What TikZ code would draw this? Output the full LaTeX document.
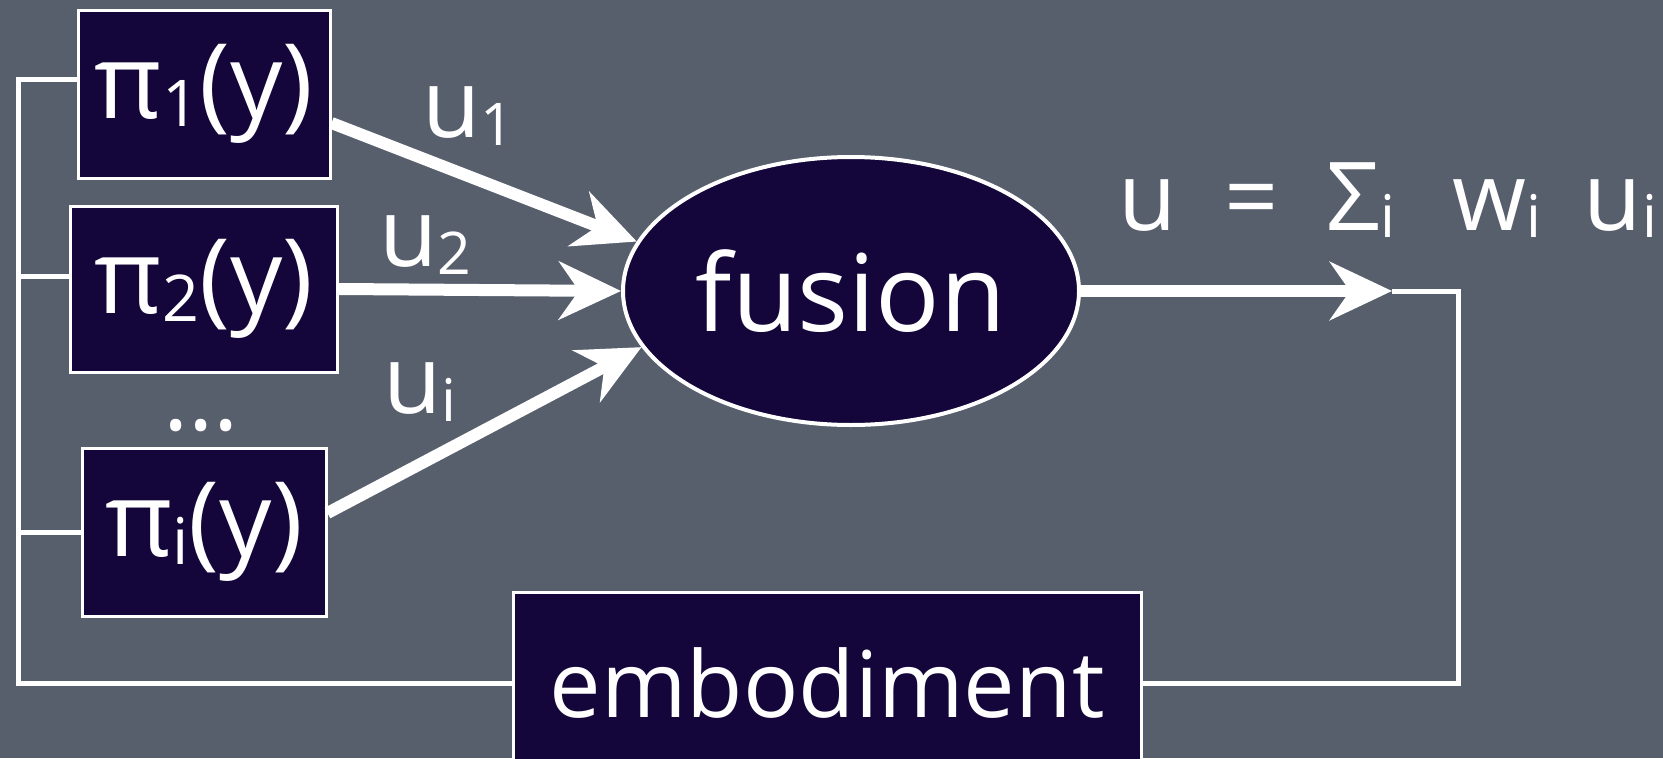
\documentclass[tikz,border=0pt]{standalone}
\usepackage{graphicx}
\usepackage{fontspec}
\setmainfont{Open Sans}
\usetikzlibrary{arrows.meta,shapes.geometric}
\definecolor{slate}{RGB}{88,95,108}
\definecolor{navy}{RGB}{20,6,58}
\newcommand\idx[1]{\raisebox{-0.08em}{\scalebox{0.62}{#1}}}

\begin{document}
\begin{tikzpicture}[x=1pt,y=-1pt,
  box/.style={draw=white,line width=3pt,fill=navy,text=white,inner sep=0pt},
  lbl/.style={text=white,inner sep=0pt,font=\fontsize{95}{100}\selectfont},
  feed/.style={draw=white,line width=5pt},
  bigarrow/.style={draw=white,line width=12pt,-{Stealth[length=62pt,width=58pt,inset=20pt]}}]
\fill[slate] (0,0) rectangle (1663,758);
\useasboundingbox (0,0) rectangle (1663,758);
\clip (0,0) rectangle (1663,758);
\node[box,minimum width=252pt,minimum height=168pt,font=\fontsize{104}{110}\selectfont] (p1) at (204,94) {π\idx{1}(y)};
\node[box,minimum width=267pt,minimum height=166pt,font=\fontsize{104}{110}\selectfont] (p2) at (204,289) {π\idx{2}(y)};
\node[box,minimum width=244pt,minimum height=168pt,font=\fontsize{104}{110}\selectfont] (pi) at (204,532) {π\idx{i}(y)};
\node[lbl] (dots) at (201,426) {...};
\node[box,ellipse,line width=4pt,minimum width=456pt,minimum height=268pt,font=\fontsize{107}{115}\selectfont] (fus) at (851,291) {fusion};
\node[box,minimum width=628pt,minimum height=182pt,font=\fontsize{92}{100}\selectfont] (emb) at (827,683) {embodiment};
\node[lbl] (u1) at (468,116) {u\idx{1}};
\node[lbl] (u2) at (425,245) {u\idx{2}};
\node[lbl] (ui) at (420,392) {u\idx{i}};
\node[lbl,anchor=base] (sum) at (1388,230) {u\hspace{0.5em}=\hspace{0.5em}Σ\idx{i}\hspace{0.6em}w\idx{i}\hspace{0.45em}u\idx{i}};
\coordinate (sumpt) at (1392,291);
\coordinate (rt) at (1458,291);
\coordinate (lft) at (18,79);
\draw[bigarrow] ([yshift=-29pt]p1.east) -- (fus.167);
\draw[bigarrow] (p2.east) -- (fus.west);
\draw[bigarrow] ([yshift=19pt]pi.east) -- (fus.195);
\draw[bigarrow] (fus.east) -- (sumpt);
\draw[feed] (sumpt) -- (rt) |- (emb.east);
\draw[feed] (emb.west) -| (lft) -- (lft -| p1.west);
\draw[feed] ([yshift=13pt]p2.west) -- ([yshift=13pt]p2.west -| lft);
\draw[feed] (pi.west) -- (pi.west -| lft);
\end{tikzpicture}
\end{document}
